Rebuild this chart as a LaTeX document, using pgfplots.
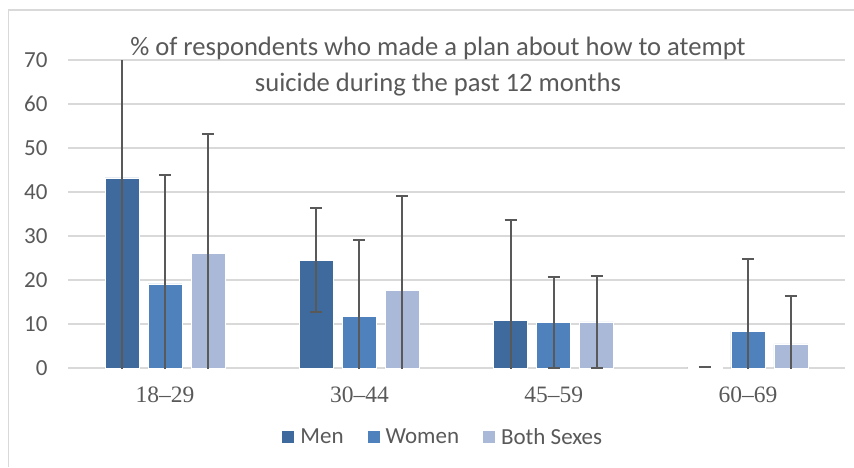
\documentclass[border=0pt]{standalone}
\usepackage{pgfplots}
\pgfplotsset{compat=1.18}
\usepackage{fontspec}
\setmainfont{Liberation Serif}
\newfontfamily\carlito{Carlito}
\definecolor{menc}{HTML}{3F6A9D}
\definecolor{womenc}{HTML}{4F81BD}
\definecolor{bothc}{HTML}{A9B9D7}
\definecolor{txtgray}{HTML}{595959}
\definecolor{gridgray}{HTML}{D9D9D9}
\begin{document}
\begin{tikzpicture}
\begin{axis}[
  anchor=south west, at={(0pt,0pt)},
  scale only axis, width=777pt, height=308pt,
  xmin=-0.5, xmax=3.5, ymin=0, ymax=70,
  ytick={0,10,...,70},
  xtick={0,1,2,3},
  xticklabels={18--29,30--44,45--59,60--69},
  ymajorgrids, grid style={gridgray, line width=1.2pt},
  axis line style={draw=none}, major tick length=0pt,
  /pgf/number format/assume math mode=true,
  yticklabel style={font=\carlito\fontsize{23}{23}\selectfont, text=txtgray, xshift=-17pt},
  xticklabel style={font=\fontsize{23.5}{23.5}\selectfont, text=txtgray, yshift=-15pt},
  ybar=9pt, bar width=34pt,
  error bars/error bar style={txtgray, line width=2pt},
  error bars/error mark options={rotate=90, txtgray, mark size=6pt, line width=2pt},
  legend columns=3,
  legend style={at={(0.483,-0.224)}, anchor=center, draw=none, fill=none,
    font=\carlito\fontsize{23}{23}\selectfont, text=txtgray,
    /tikz/every odd column/.append style={column sep=4pt},
    /tikz/every even column/.append style={column sep=22pt}},
  legend image code/.code={\fill[#1,draw=none] (0pt,-6pt) rectangle (12pt,6pt);},
]
\addplot[fill=menc, draw=white, line width=0.5pt,
  error bars/.cd, y dir=both, y explicit]
  coordinates {(0,43.2) +- (0,45) (1,24.5) +- (0,11.8) (2,10.75) +- (0,22.85) (3,0.2) +- (0,0)};
\addplot[fill=womenc, draw=white, line width=0.5pt,
  error bars/.cd, y dir=both, y explicit]
  coordinates {(0,19.1) +- (0,24.8) (1,11.8) +- (0,17.3) (2,10.4) +- (0,10.35) (3,8.4) +- (0,16.4)};
\addplot[fill=bothc, draw=white, line width=0.5pt,
  error bars/.cd, y dir=both, y explicit]
  coordinates {(0,26.1) +- (0,27) (1,17.7) +- (0,21.4) (2,10.5) +- (0,10.5) (3,5.5) +- (0,10.9)};
\legend{Men,Women,Both Sexes}
\end{axis}
\draw[gridgray, line width=1.2pt] (-59.5pt,-99pt) -- (-59.5pt,358pt) -- (786pt,358pt);
\node[align=center, text=txtgray, font=\carlito\fontsize{26.6}{36}\selectfont] at (370pt,301pt)
  {\% of respondents who made a plan about how to atempt\\suicide during the past 12 months};
\pgfresetboundingbox
\useasboundingbox (-68pt,-99pt) rectangle (786pt,368pt);
\end{tikzpicture}
\end{document}
